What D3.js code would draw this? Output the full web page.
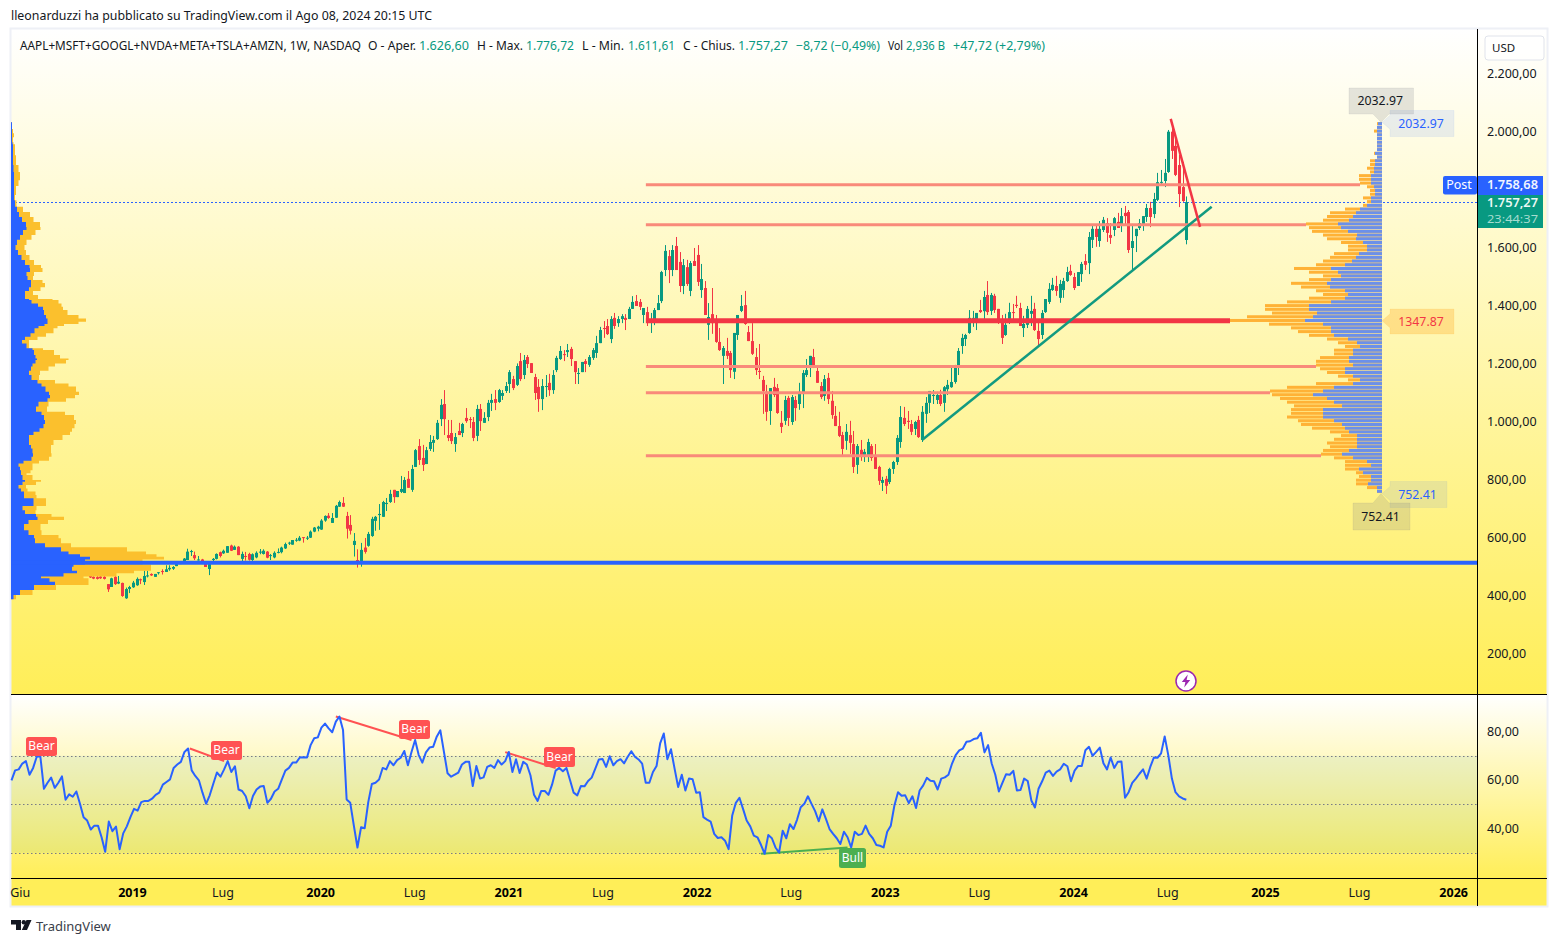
<!DOCTYPE html>
<html><head><meta charset="utf-8">
<script src="https://cdn.jsdelivr.net/npm/d3@7"></script>
<style>html,body{margin:0;padding:0;background:#fff}svg{display:block}text{font-family:"Noto Sans",sans-serif}</style>
</head><body><div id="chart"></div>
<script>
// ---------- weekly candles ----------
const opens=[468,465,464,466,465,440,430,465,442,444,
391,423,429,436,457,447,468,475,465,478,
485,482,491,493,502,509,516,523,552,540,
523,525,509,492,523,527,550,546,548,573,
558,569,527,537,544,523,532,550,544,552,
537,532,548,550,563,581,576,591,590,602,
597,600,621,631,628,659,676,651,669,707,
720,675,644,575,523,510,566,572,606,658,
678,672,716,723,765,740,758,754,803,765,
844,916,875,854,906,927,940,1009,1061,954,
961,923,968,961,1013,1009,999,951,1044,996,
1016,1065,1078,1068,1089,1106,1130,1147,1127,1209,
1161,1223,1202,1154,1120,1078,1120,1134,1109,1178,
1216,1233,1240,1251,1209,1166,1171,1209,1196,1220,
1237,1271,1323,1330,1285,1358,1340,1354,1358,1354,
1389,1416,1413,1368,1378,1351,1347,1385,1416,1523,
1571,1523,1606,1551,1468,1533,1451,1554,1575,1454,
1461,1334,1371,1354,1275,1227,1244,1237,1172,1299,
1382,1402,1309,1278,1223,1175,1144,1103,1037,1120,
1116,996,1003,1082,999,1075,1061,1099,1161,1185,
1223,1175,1123,1089,1151,1072,1020,985,954,934,
954,923,851,903,879,882,916,879,844,789,
803,792,837,861,930,1013,1003,992,975,1006,
937,1027,1065,1090,1075,1092,1065,1112,1119,1137,
1186,1261,1285,1306,1356,1344,1385,1381,1437,1382,
1434,1389,1341,1299,1344,1378,1403,1392,1323,1334,
1372,1389,1313,1299,1378,1413,1454,1468,1427,1454,
1485,1520,1499,1468,1509,1554,1547,1627,1665,1623,
1661,1685,1644,1661,1689,1675,1720,1723,1599,1640,
1668,1682,1706,1737,1716,1765,1824,1830,1861,2000,
1951,1885,1809,1626.6];
const highs=[470,467,468,469,468,440,462,471,468,445,
428,434,451,463,459,486,486,477,475,481,
491,505,505,502,512,516,530,562,558,552,
537,527,512,517,530,546,552,559,571,576,
573,571,552,551,548,546,553,561,560,554,
544,553,563,569,583,586,592,599,606,602,
606,625,637,641,664,677,685,685,713,728,
740,689,678,616,560,582,599,620,672,675,
716,727,737,765,765,761,813,809,830,851,
906,940,920,913,954,951,1006,1078,1109,1006,
1006,961,996,996,1047,1016,1016,1058,1061,1033,
1075,1096,1109,1113,1109,1137,1178,1158,1201,1237,
1230,1230,1202,1165,1147,1147,1161,1165,1178,1227,
1261,1247,1268,1258,1209,1185,1206,1216,1230,1254,
1296,1327,1347,1354,1364,1375,1364,1371,1371,1396,
1433,1437,1423,1392,1396,1375,1392,1437,1520,1609,
1592,1609,1637,1585,1561,1558,1554,1599,1609,1544,
1485,1409,1461,1368,1323,1261,1289,1244,1306,1368,
1437,1451,1330,1340,1254,1268,1158,1127,1116,1151,
1130,1037,1089,1089,1092,1089,1134,1178,1216,1227,
1251,1192,1137,1161,1168,1106,1054,1034,965,992,
1003,968,923,937,906,941,923,923,848,810,
813,841,865,954,1054,1051,1037,1006,1003,1020,
1054,1085,1106,1109,1103,1110,1123,1144,1192,1196,
1254,1303,1303,1385,1382,1375,1420,1451,1485,1444,
1441,1389,1368,1372,1410,1406,1434,1410,1365,1399,
1434,1410,1341,1385,1423,1478,1496,1503,1489,1496,
1534,1541,1513,1516,1551,1578,1654,1675,1675,1692,
1706,1702,1685,1706,1720,1737,1744,1730,1682,1665,
1699,1709,1751,1758,1789,1858,1868,1906,2006,2033,
1989,1920,1896,1776.72];
const lows=[461,457,456,458,456,413,430,437,440,396,
389,409,427,434,440,437,463,468,465,473,
473,482,486,489,502,509,516,523,537,523,
521,509,499,471,517,525,532,544,548,554,
558,540,517,521,521,520,529,543,542,529,
523,529,546,546,561,575,576,586,588,583,
592,599,619,622,627,655,665,651,668,706,
706,597,611,535,497,500,545,569,603,624,
627,672,692,720,720,740,754,754,772,758,
844,851,830,854,899,896,937,985,954,933,
923,896,954,947,996,978,933,933,968,996,
1002,1037,1040,1065,1075,1099,1099,1109,1123,1140,
1147,1185,1168,1075,1034,1040,1085,1089,1096,1171,
1213,1209,1223,1192,1130,1130,1171,1171,1189,1213,
1220,1271,1289,1299,1271,1320,1327,1340,1316,1354,
1389,1399,1385,1340,1330,1306,1333,1385,1409,1502,
1478,1502,1523,1447,1440,1468,1433,1537,1468,1427,
1368,1282,1303,1272,1244,1130,1216,1151,1147,1282,
1378,1334,1278,1230,1161,1147,1027,1003,989,1085,
1027,961,989,985,989,1003,1041,1047,1154,1154,
1185,1134,1078,1072,1061,1010,985,947,885,903,
889,823,820,865,861,861,865,837,782,761,
751,785,820,851,910,985,975,954,954,944,
930,996,1030,1061,1061,1054,1034,1092,1117,1131,
1161,1234,1261,1303,1327,1316,1375,1347,1368,1368,
1375,1337,1268,1296,1337,1341,1392,1330,1292,1323,
1330,1313,1258,1285,1375,1406,1451,1434,1410,1427,
1482,1503,1454,1468,1482,1523,1509,1599,1603,1603,
1654,1620,1613,1640,1668,1654,1678,1582,1520,1585,
1661,1658,1689,1671,1702,1761,1813,1809,1858,1906,
1847,1740,1758,1611.61];
const closes=[463,459,458,460,458,422,460,440,448,399,
423,430,445,458,453,468,470,470,475,481,
483,491,496,499,509,516,528,552,554,529,
525,512,499,509,527,544,537,555,571,555,
569,540,544,535,524,543,548,552,555,531,
540,548,551,566,578,583,592,593,600,600,
600,621,635,638,659,675,668,668,710,723,
707,631,624,589,510,558,551,613,665,672,
682,723,720,751,740,761,768,799,772,837,
902,868,851,902,930,937,996,1058,1009,944,
933,947,954,992,1002,1007,944,1044,1002,1013,
1065,1075,1065,1109,1099,1123,1171,1116,1192,1147,
1213,1199,1168,1099,1078,1123,1123,1109,1161,1220,
1244,1231,1247,1216,1171,1168,1206,1199,1223,1247,
1271,1316,1320,1302,1354,1330,1354,1364,1351,1389,
1413,1399,1396,1392,1347,1354,1385,1409,1516,1589,
1523,1592,1523,1468,1540,1475,1547,1537,1482,1492,
1368,1361,1340,1275,1247,1254,1227,1178,1306,1368,
1399,1337,1278,1234,1178,1172,1106,1034,1116,1092,
1030,982,1075,1013,1085,1047,1103,1168,1178,1227,
1189,1134,1085,1147,1078,1023,985,951,906,965,
927,844,916,879,896,930,875,837,796,799,
779,837,861,944,1016,992,999,965,999,947,
1034,1065,1106,1092,1092,1061,1119,1127,1137,1190,
1244,1289,1299,1358,1358,1375,1378,1430,1378,1437,
1385,1341,1289,1334,1378,1376,1399,1330,1337,1389,
1382,1316,1285,1375,1423,1458,1472,1451,1475,1485,
1516,1506,1461,1516,1544,1541,1637,1665,1637,1665,
1696,1651,1634,1702,1668,1709,1709,1592,1623,1665,
1685,1709,1737,1706,1768,1826,1827,1858,2000,1934,
1851,1785,1761,1757.27];
// ---------- RSI ----------
const rsi=[59.9,64.0,64.4,66.8,67.8,62.2,65.0,69.6,69.8,56.4,58.9,61.0,56.8,58.9,61.5,51.9,54.1,53.1,55.3,50.2,
44.7,43.3,39.6,41.2,41.2,36.4,30.4,42.9,38.9,40.8,31.5,38.0,40.9,44.7,48.1,47.4,50.9,51.4,51.4,52.3,
53.9,54.8,58.1,59.2,60.3,65.0,66.4,67.5,71.6,73.0,64.0,61.7,59.9,54.8,50.2,53.7,58.5,63.1,61.4,64.4,
67.8,63.3,65.7,56.1,55.5,53.3,48.4,53.4,56.1,57.3,57.5,50.6,52.3,55.3,56.4,60.2,63.9,65.0,67.2,67.2,
69.3,69.4,69.3,74.4,77.2,77.6,81.6,83.3,81.3,79.7,84.1,86.2,80.6,52.0,50.6,41.2,32.2,40.5,40.1,50.9,
58.4,58.9,60.2,65.0,64.4,67.8,66.1,68.2,69.2,72.0,66.1,71.6,76.5,70.3,67.2,71.4,73.4,73.7,77.9,80.5,
71.6,62.8,61.4,62.2,63.1,66.4,67.5,67.5,57.5,65.8,60.6,61.1,65.4,66.1,65.0,68.2,66.4,67.8,71.6,63.3,
68.6,62.9,67.5,66.4,62.0,53.9,51.4,55.5,55.5,53.9,58.1,63.9,65.0,63.6,65.0,59.9,54.8,53.7,57.5,57.4,
59.6,61.0,64.7,68.5,68.7,65.4,69.8,66.1,67.8,68.6,66.9,69.6,71.9,69.6,68.5,66.8,58.9,58.9,63.3,65.8,
75.1,79.2,68.6,72.7,64.7,57.1,62.2,55.7,60.6,60.3,54.8,55.0,44.7,43.7,42.9,37.8,36.1,36.4,35.0,31.5,
45.4,50.6,52.7,48.1,43.3,40.9,37.1,36.4,33.2,29.6,37.3,36.0,32.2,30.1,39.1,36.0,41.8,39.8,43.7,48.8,
50.2,53.3,50.2,47.2,43.0,47.9,44.0,39.8,37.8,36.0,33.6,38.7,36.4,32.2,38.7,37.3,37.8,41.2,37.8,36.0,
33.2,32.9,32.2,38.7,41.2,49.5,55.0,53.5,53.7,50.5,53.3,48.5,55.7,57.8,60.9,59.7,59.5,56.1,60.6,61.1,
62.2,66.8,70.3,72.2,73.0,75.8,76.0,76.9,77.2,79.5,71.4,74.4,66.8,62.2,55.3,58.9,62.4,62.2,63.8,55.7,
55.9,60.6,59.6,51.6,48.7,56.4,59.5,63.1,63.9,61.7,63.5,64.4,66.7,65.7,59.5,63.9,65.8,65.8,72.3,73.7,
70.0,71.6,73.4,66.9,64.4,69.3,65.0,67.5,67.6,52.7,55.0,58.8,60.6,62.6,64.4,60.6,65.4,69.3,69.2,71.0,
78.0,70.3,60.6,55.0,53.3,52.4,51.9];
const rsiBands=[70,50,30];
const rsiTicks=[80,60,40];
// ---------- axis ticks ----------
const priceTicks=[2200,2000,1600,1400,1200,1000,800,600,400,200];
const timeTickWeeks=[-19,12,37,64,90,116,142,168,194,220,246,272,298,325,351,377];
const timeTickLabels=["Giu","2019","Lug","2020","Lug","2021","Lug","2022","Lug","2023","Lug","2024","Lug","2025","Lug","2026"];
// ---------- levels and trend lines ----------
const levelPrices=[1817,1679,1347.87,1190,1100,883];
const levelWidths=[3,3,5,3,3,3];
const supportPrice=514;
const lastPostPrice=1756;
const trendWeeks=[[230,310],[298.7,306.8]];
const trendPrices=[[937,1741],[2044,1672]];
// ---------- fixed-range volume profile (right), 100 rows high to low ----------
const profileHigh=2032.97, profileLow=752.41;
const profileTotal=[5,5,8,5,5,5,5,5,8,5,12,12,15,12,23,23,22,15,12,12,19,15,19,37,52,55,59,76,73,70,59,55,41,34,34,48,52,59,66,88,73,59,73,91,81,66,59,73,95,117,117,110,135,152,113,91,84,73,55,44,37,48,48,62,66,66,62,55,44,34,66,95,112,110,102,95,88,91,91,95,84,81,70,52,41,48,55,52,59,61,48,37,37,37,26,23,26,26,15,5];
const profileUp=[4,5,5,5,5,5,5,5,7,5,7,7,8,8,11,11,11,8,7,7,11,11,15,22,26,29,33,44,41,34,25,26,19,15,15,23,26,30,37,51,44,41,51,55,52,37,34,37,51,73,73,65,69,77,59,51,51,48,34,25,22,29,29,33,33,29,37,37,29,22,29,48,59,69,55,48,40,59,59,59,48,40,37,33,25,25,25,25,33,40,29,15,11,23,19,11,11,14,5,5];
// ---------- visible-range volume profile (left) ----------
const leftLevels=[2033,2009,1995,1981,1964,1957,1919,1885,1861,1833,1813,1782,1764,1741,1723,1706,1689,1671,1661,1644,1627,1609,1592,1575,1558,1540,1530,1516,1502,1489,1478,1464,1451,1437,1423,1420,1408,1396,1385,1368,1356,1345,1337,1330,1322,1305,1293,1282,1270,1253,1247,1230,1218,1213,1201,1190,1176,1161,1144,1132,1121,1103,1092,1081,1069,1052,1034,1023,1006,992,977,965,954,937,920,908,891,879,865,856,845,833,822,816,799,793,782,770,759,747,736,723,709,695,682,672,661,647,626,609,598,581,567,552,543,534,525,508,500,486,477,466,460,448,437,420,402,388];
const leftTotal=[1,1,3,3,1,4,4,6,9,9,6,4,4,7,17,21,24,34,25,24,17,14,13,17,20,26,34,29,17,27,36,32,27,17,37,46,49,52,52,61,74,76,59,47,46,39,31,22,14,22,42,44,54,61,49,39,36,22,34,54,61,69,67,61,49,26,46,62,64,66,61,61,57,46,39,41,39,42,34,22,21,22,17,14,29,31,19,11,22,27,24,46,24,27,22,59,47,27,32,29,66,34,86,146,124,167,139,124,156,124,122,89,56,99,56,34,9,1];
const leftUp=[1,1,1,1,1,2,2,2,3,3,3,3,3,5,7,9,13,17,14,10,8,4,5,9,12,16,21,17,14,19,21,19,17,11,17,19,22,32,32,34,36,37,36,31,24,23,16,12,10,21,22,24,25,27,22,21,19,17,24,29,32,37,39,39,34,21,29,32,34,34,31,26,19,17,19,21,22,22,19,6,9,9,11,9,14,14,9,6,14,12,14,31,14,9,19,31,22,13,13,22,24,24,44,56,59,79,79,69,56,66,66,39,21,56,32,14,4,1];
// ---------- text ----------
const headerText="lleonarduzzi ha pubblicato su TradingView.com il Ago 08, 2024 20:15 UTC";
const legendTexts=["AAPL+MSFT+GOOGL+NVDA+META+TSLA+AMZN, 1W, NASDAQ","O - Aper.","1.626,60","H - Max.","1.776,72","L - Min.","1.611,61","C - Chius.","1.757,27","−8,72 (−0,49%)","Vol","2,936 B","+47,72 (+2,79%)"];
const legendLefts=[20,368,419,477,526,582,628,683,738,796,888,906,953];
const legendWidths=[341,48,50,46,48,42,47,52,50,84,15,39,92];
const legendIsValue=[0,0,1,0,1,0,1,0,1,1,0,1,1];

const W=1558,H=944;
const C={green:"#089981",red:"#f23645",blue:"#2962ff",ink:"#131722"};
const L={left:11,right:1547,axis:1477,top:29,main:694,rsi:878,bottom:906};
const svg=d3.select("#chart").append("svg").attr("width",W).attr("height",H);
const defs=svg.append("defs");
const grad=(id,stops)=>{const g=defs.append("linearGradient").attr("id",id).attr("x1",0).attr("x2",0).attr("y1",0).attr("y2",1);
 stops.forEach(s=>g.append("stop").attr("offset",s[0]).attr("stop-color",s[1]));};
grad("bg",[[0,"#ffffff"],[1,"#ffee58"]]);

const x=d3.scaleLinear().domain([0,303]).range([89.5,1186.3]);
const yP=d3.scaleLinear().domain([0,2200]).range([711.7,73.7]);
const yR=d3.scaleLinear().domain([30,70]).range([852.8,755.8]);
const rsiX=d3.scaleLinear().domain([0,rsi.length-1]).range([11.5,1186.3]);
const it=d3.formatLocale({decimal:",",thousands:".",grouping:[3],currency:["",""]}).format(",.2f");

// backgrounds
svg.append("rect").attr("x",L.left).attr("y",L.top).attr("width",L.right-L.left).attr("height",L.main-L.top).attr("fill","url(#bg)");
svg.append("rect").attr("x",L.left).attr("y",L.main).attr("width",L.right-L.left).attr("height",L.rsi-L.main).attr("fill","url(#bg)");
svg.append("rect").attr("x",L.left).attr("y",L.rsi).attr("width",L.right-L.left).attr("height",L.bottom-L.rsi).attr("fill","#ffee58");
svg.append("rect").attr("x",L.left-0.5).attr("y",L.top-0.5).attr("width",L.right-L.left+1).attr("height",L.bottom-L.top+1).attr("fill","none").attr("stroke","#eef0f6").attr("stroke-width",2);

// post dotted line
svg.append("line").attr("x1",L.left).attr("x2",L.axis).attr("y1",Math.round(yP(lastPostPrice))+.5).attr("y2",Math.round(yP(lastPostPrice))+.5)
 .attr("stroke",C.blue).attr("stroke-width",1).attr("stroke-dasharray","2 2");

// candles
const candles=d3.range(opens.length).map(i=>({i,o:opens[i],h:highs[i],l:lows[i],c:closes[i]}));
const colorOf=d=>d.c>=d.o?C.green:C.red;
const cg=svg.append("g");
cg.selectAll("line").data(candles).join("line")
 .attr("x1",d=>Math.round(x(d.i))+0.5).attr("x2",d=>Math.round(x(d.i))+0.5)
 .attr("y1",d=>yP(d.h)).attr("y2",d=>yP(d.l)).attr("stroke",colorOf).attr("stroke-width",1);
cg.selectAll("rect").data(candles).join("rect")
 .attr("x",d=>Math.round(x(d.i))-1).attr("width",3)
 .attr("y",d=>yP(Math.max(d.o,d.c))).attr("height",d=>Math.max(1,Math.abs(yP(d.o)-yP(d.c))))
 .attr("fill",colorOf);

// horizontal levels, ending where the right profile row begins
const rowH=(profileHigh-profileLow)/profileTotal.length;
const rowOf=p=>Math.max(0,Math.min(profileTotal.length-1,Math.floor((profileHigh-p)/rowH)));
const profR=1382;
const vol=d3.scaleLinear().domain([0,100]).range([0,100]);
const levelStart=x(153.7);
svg.append("g").selectAll("line").data(levelPrices).join("line")
 .attr("x1",levelStart).attr("x2",d=>profR-vol(profileTotal[rowOf(d)]))
 .attr("y1",d=>yP(d)).attr("y2",d=>yP(d))
 .attr("stroke",(d,i)=>levelWidths[i]>3?C.red:"#f98a7a").attr("stroke-width",(d,i)=>levelWidths[i]);

// right profile
const rows=profileTotal.map((t,i)=>({t,u:profileUp[i],p:profileHigh-(i+0.5)*rowH}));
const rg=svg.append("g");
const rowPx=Math.abs(yP(0)-yP(rowH));
rg.selectAll("rect.t").data(rows).join("rect").attr("class","t")
 .attr("x",d=>profR-vol(d.t)).attr("width",d=>vol(d.t)).attr("y",d=>yP(d.p)-rowPx/2).attr("height",rowPx-0.7).attr("fill","#ffb236");
rg.selectAll("rect.u").data(rows).join("rect").attr("class","u")
 .attr("x",d=>profR-vol(d.u)).attr("width",d=>vol(d.u)).attr("y",d=>yP(d.p)-rowPx/2).attr("height",rowPx-0.7).attr("fill","#6b90ea");

// left profile
const lpts=leftLevels.map((p,i)=>({p,t:leftTotal[i],u:leftUp[i]}));
const lx=v=>L.left+vol(v);
svg.append("path").datum(lpts).attr("fill","#fbc02d").attr("d",d3.area().y(d=>yP(d.p)).x0(L.left).x1(d=>lx(d.t)).curve(d3.curveStep));
svg.append("path").datum(lpts).attr("fill",C.blue).attr("d",d3.area().y(d=>yP(d.p)).x0(L.left).x1(d=>lx(d.u)).curve(d3.curveStep));

// support line
svg.append("line").attr("x1",L.left).attr("x2",L.axis).attr("y1",yP(supportPrice)).attr("y2",yP(supportPrice)).attr("stroke",C.blue).attr("stroke-width",4);

// trend lines
trendWeeks.forEach((w,i)=>{svg.append("line").attr("x1",x(w[0])).attr("x2",x(w[1])).attr("y1",yP(trendPrices[i][0])).attr("y2",yP(trendPrices[i][1]))
 .attr("stroke",i?C.red:"#129a80").attr("stroke-width",2.5);});

// profile price tags
function tag(box,tip,fill,stroke,color,label){
 const g=svg.append("g");
 const [a,b,c,d]=box; const side=tip[0]<a?"l":(tip[1]>d?"b":"t");
 let pts;
 if(side==="l")pts=[[a,b],[c,b],[c,d],[a,d],[a,tip[1]+7],tip,[a,tip[1]-7]];
 if(side==="b")pts=[[a,b],[c,b],[c,d],[tip[0]+8,d],tip,[tip[0]-8,d],[a,d]];
 if(side==="t")pts=[[a,b],[tip[0]-8,b],tip,[tip[0]+8,b],[c,b],[c,d],[a,d]];
 g.append("path").attr("d",d3.line().curve(d3.curveLinearClosed)(pts)).attr("fill",fill).attr("stroke",stroke).attr("stroke-linejoin","round");
 g.append("text").attr("x",(a+c)/2-1).attr("y",(b+d)/2).attr("dy",".35em").attr("text-anchor","middle").attr("font-size",12.3).attr("fill",color).text(label);
}
tag([1390,110.5,1454,136.5],[1382,yP(profileHigh)],"rgba(41,98,255,.1)","rgba(41,98,255,.06)",C.blue,"2032.97");
tag([1349,88,1413.5,114],[1381,yP(profileHigh)],"rgba(120,123,134,.2)","rgba(120,123,134,.1)",C.ink,"2032.97");
tag([1390,309,1454,334],[1382,yP(1347.87)],"rgba(255,152,0,.25)","rgba(255,152,0,.08)",C.red,"1347.87");
tag([1390,481.5,1447,507.5],[1382,yP(profileLow)],"rgba(41,98,255,.1)","rgba(41,98,255,.06)",C.blue,"752.41");
tag([1353,503,1410,530],[1381,yP(profileLow)],"rgba(120,123,134,.2)","rgba(120,123,134,.1)",C.ink,"752.41");

// flash icon
const ic=svg.append("g").attr("transform","translate(1186,681)");
ic.append("circle").attr("r",10).attr("fill","#fff").attr("stroke","#9c27b0").attr("stroke-width",1.5);
ic.append("path").attr("d","M1.8-6.5L-4.2 1H-.6L-1.8 6.5L4.2-1H.6Z").attr("fill","#9c27b0");

// RSI pane
svg.append("rect").attr("x",L.left).attr("width",L.axis-L.left).attr("y",yR(70)).attr("height",yR(30)-yR(70)).attr("fill","rgba(40,150,150,.09)");
svg.append("g").selectAll("line").data(rsiBands).join("line").attr("x1",L.left).attr("x2",L.axis).attr("y1",d=>Math.round(yR(d))+.5).attr("y2",d=>Math.round(yR(d))+.5)
 .attr("stroke","#787b86").attr("stroke-width",1).attr("stroke-dasharray","1.5 2.5");
const divs=[{a:49.5,b:59,va:73,vb:67.8,c:"#ff5252"},{a:90,b:111,va:86.2,vb:76.5,c:"#ff5252"},{a:137,b:151,va:71.5,vb:65,c:"#ff5252"},{a:208,b:232,va:29.6,vb:32.2,c:"#4caf50"}];
svg.append("g").selectAll("line").data(divs).join("line").attr("x1",d=>rsiX(d.a)).attr("x2",d=>rsiX(d.b)).attr("y1",d=>yR(d.va)).attr("y2",d=>yR(d.vb)).attr("stroke",d=>d.c).attr("stroke-width",2);
svg.append("path").datum(rsi).attr("fill","none").attr("stroke",C.blue).attr("stroke-width",2).attr("stroke-linejoin","round")
 .attr("d",d3.line().x((d,i)=>rsiX(i)).y(d=>yR(d)));
const badges=[{x:26,y:737,w:31,h:19,t:"Bear",c:"#ff5252"},{x:211,y:741,w:31,h:19,t:"Bear",c:"#ff5252"},{x:399,y:720,w:31,h:19,t:"Bear",c:"#ff5252"},{x:544,y:747,w:31,h:20,t:"Bear",c:"#ff5252"},{x:839,y:848,w:27,h:20,t:"Bull",c:"#4caf50"}];
const bg=svg.append("g").selectAll("g").data(badges).join("g");
bg.append("rect").attr("x",d=>d.x).attr("y",d=>d.y).attr("width",d=>d.w).attr("height",d=>d.h).attr("rx",2.5).attr("fill",d=>d.c);
bg.append("text").attr("x",d=>d.x+d.w/2).attr("y",d=>d.y+d.h/2-.5).attr("dy",".35em").attr("text-anchor","middle").attr("font-size",12).attr("fill","#fff").text(d=>d.t);

// separators
svg.append("line").attr("x1",L.left).attr("x2",L.right).attr("y1",L.main+.5).attr("y2",L.main+.5).attr("stroke","#000");
svg.append("line").attr("x1",L.left).attr("x2",L.right).attr("y1",L.rsi+.5).attr("y2",L.rsi+.5).attr("stroke","#000");
svg.append("line").attr("x1",L.axis+.5).attr("x2",L.axis+.5).attr("y1",L.top).attr("y2",L.bottom).attr("stroke","#000");

// axes
const axisStyle=g=>{g.select(".domain").remove();g.selectAll("text").attr("font-family",'"Noto Sans",sans-serif').attr("font-size",12.5).attr("fill",C.ink);};
svg.append("g").attr("transform",`translate(${L.axis},0)`).call(d3.axisRight(yP).tickValues(priceTicks).tickSize(0).tickPadding(10).tickFormat(it)).call(axisStyle);
svg.append("g").attr("transform",`translate(${L.axis},-0.2)`).call(d3.axisRight(yR).tickValues(rsiTicks).tickSize(0).tickPadding(10).tickFormat(it)).call(axisStyle);
const tAxis=svg.append("g").attr("transform",`translate(-1,${L.rsi+7})`).call(d3.axisBottom(x).tickValues(timeTickWeeks).tickSize(0).tickPadding(3).tickFormat((d,i)=>timeTickLabels[i])).call(axisStyle);
tAxis.selectAll("text").attr("font-size",12.5).attr("font-weight",(d,i)=>/^\d/.test(timeTickLabels[i])?700:400).attr("fill",(d,i)=>/^\d/.test(timeTickLabels[i])?"#000":C.ink);

// right axis labels
svg.append("rect").attr("x",1485).attr("y",36).attr("width",59).attr("height",24).attr("rx",3).attr("fill","rgba(255,255,255,.75)").attr("stroke","#e0e3eb");
svg.append("text").attr("x",1492).attr("y",47.5).attr("dy",".35em").attr("font-size",11.5).attr("fill",C.ink).text("USD");
svg.append("rect").attr("x",1443).attr("y",176).attr("width",34).attr("height",18.5).attr("rx",2).attr("fill",C.blue);
svg.append("text").attr("x",1459).attr("y",185).attr("dy",".35em").attr("text-anchor","middle").attr("font-size",12.5).attr("fill","#fff").text("Post");
svg.append("rect").attr("x",1478).attr("y",176).attr("width",65).attr("height",19).attr("fill",C.blue);
svg.append("text").attr("x",1487).attr("y",184.5).attr("dy",".35em").attr("font-size",11.8).attr("font-weight",600).attr("textLength",51).attr("lengthAdjust","spacingAndGlyphs").attr("fill","#f0f4ff").text("1.758,68");
svg.append("rect").attr("x",1478).attr("y",195).attr("width",65).attr("height",33).attr("fill",C.green);
svg.append("text").attr("x",1487).attr("y",202.5).attr("dy",".35em").attr("font-size",11.8).attr("font-weight",600).attr("textLength",51).attr("lengthAdjust","spacingAndGlyphs").attr("fill","#ecf8f5").text("1.757,27");
svg.append("text").attr("x",1487).attr("y",218.5).attr("dy",".35em").attr("font-size",11.6).attr("textLength",51).attr("lengthAdjust","spacingAndGlyphs").attr("fill","#a6dccf").text("23:44:37");

// header, legend and footer
svg.append("text").attr("x",11).attr("y",16).attr("dy",".35em").attr("font-size",12.3).attr("fill",C.ink).attr("textLength",421).attr("lengthAdjust","spacingAndGlyphs").text(headerText);
svg.append("g").selectAll("text").data(legendTexts).join("text").attr("x",(d,i)=>legendLefts[i]).attr("y",45.5).attr("dy",".35em").attr("font-size",12)
 .attr("textLength",(d,i)=>legendWidths[i]).attr("lengthAdjust","spacingAndGlyphs")
 .attr("fill",(d,i)=>legendIsValue[i]?C.green:C.ink).text(d=>d);
const lg=svg.append("g").attr("fill","#131722");
lg.append("path").attr("d","M11 920H21V930H16V924.5H11Z");
lg.append("circle").attr("cx",23.8).attr("cy",922.2).attr("r",2.2);
lg.append("path").attr("d","M26.5 920H31.5L27 930H21.8Z");
svg.append("text").attr("x",36).attr("y",926).attr("dy",".35em").attr("font-size",13).attr("fill","#3a3e4a").text("TradingView");
</script></body></html>
